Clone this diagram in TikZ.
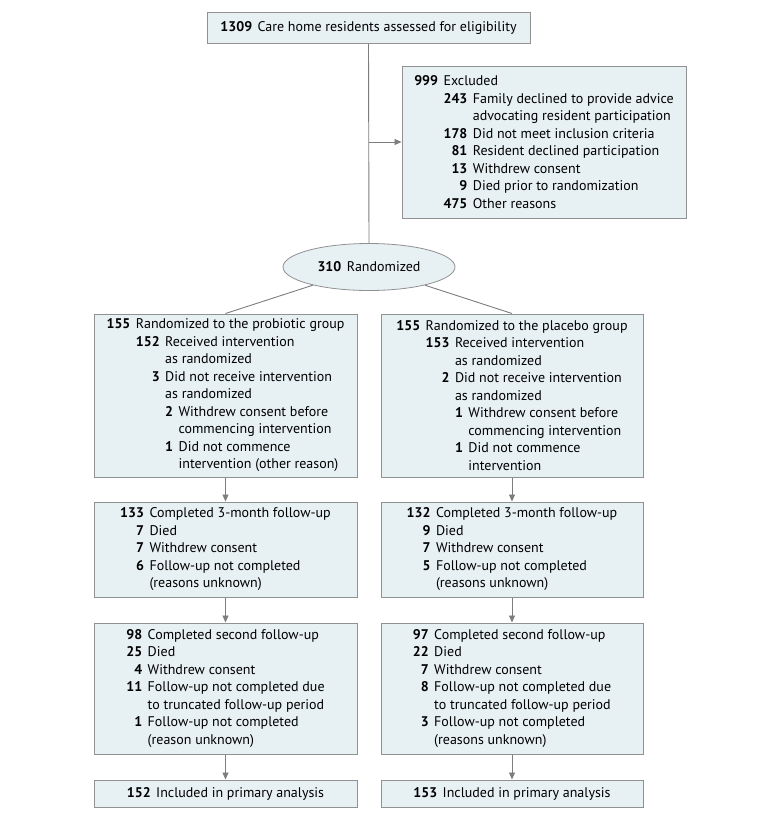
\documentclass[tikz,border=0pt]{standalone}
\usepackage{fontspec}
\setmainfont{PT Sans}
\usetikzlibrary{arrows.meta,shapes.geometric}
\definecolor{boxfill}{RGB}{231,240,243}
\definecolor{boxline}{RGB}{145,145,145}
\definecolor{conn}{RGB}{125,125,125}
\newlength\ga
\setlength\ga{5.5pt}
\newcommand\Nn[2]{\phantom{\bfseries#1}\llap{\bfseries#2}\hspace{\ga}}
\newcommand\Pp[1]{\phantom{\bfseries#1}\hspace{\ga}}
\tikzset{
  every node/.style={font=\fontsize{14}{17.5}\selectfont},
  flowbox/.style={draw=boxline, fill=boxfill, line width=1pt, rectangle,
    align=left, inner sep=0pt, anchor=center},
  randell/.style={draw=boxline, fill=boxfill, line width=0.8pt, ellipse,
    inner sep=0pt, minimum width=172pt, minimum height=47pt},
  conline/.style={draw=conn, line width=0.9pt},
  conarrow/.style={conline, -{Triangle[length=7pt,width=6pt]}}
}
\begin{document}
\begin{tikzpicture}[x=1pt,y=-1pt]
\useasboundingbox (0,0) rectangle (780,820);

\node[flowbox, minimum width=323pt, minimum height=31pt] (top) at (368.5,27.5)
  {\Nn{0000}{1309}Care home residents assessed for eligibility};

\node[flowbox, minimum width=284pt, minimum height=152pt] (excl) at (544,142)
  {\Nn{000}{999}Excluded\\
   \Pp{000}\Nn{000}{243}Family declined to provide advice\\
   \Pp{000}\Pp{000}advocating resident participation\\
   \Pp{000}\Nn{000}{178}Did not meet inclusion criteria\\
   \Pp{000}\Nn{000}{81}Resident declined participation\\
   \Pp{000}\Nn{000}{13}Withdrew consent\\
   \Pp{000}\Nn{000}{9}Died prior to randomization\\
   \Pp{000}\Nn{000}{475}Other reasons};

\node[randell] (rand) at (369,267) {\Nn{000}{310}Randomized};

\node[flowbox, minimum width=263pt, minimum height=163pt] (L1) at (225.5,395.5)
  {\Nn{000}{155}Randomized to the probiotic group\\
   \Pp{000}\Nn{000}{152}Received intervention\\
   \Pp{000}\Pp{000}as randomized\\
   \Pp{000}\Nn{000}{3}Did not receive intervention\\
   \Pp{000}\Pp{000}as randomized\\
   \Pp{000}\Pp{000}\Nn{0}{2}Withdrew consent before\\
   \Pp{000}\Pp{000}\Pp{0}commencing intervention\\
   \Pp{000}\Pp{000}\Nn{0}{1}Did not commence\\
   \Pp{000}\Pp{000}\Pp{0}intervention (other reason)};

\node[flowbox, minimum width=262pt, minimum height=163pt] (R1) at (512,395.5)
  {\Nn{000}{155}Randomized to the placebo group\\
   \Pp{000}\Nn{000}{153}Received intervention\\
   \Pp{000}\Pp{000}as randomized\\
   \Pp{000}\Nn{000}{2}Did not receive intervention\\
   \Pp{000}\Pp{000}as randomized\\
   \Pp{000}\Pp{000}\Nn{0}{1}Withdrew consent before\\
   \Pp{000}\Pp{000}\Pp{0}commencing intervention\\
   \Pp{000}\Pp{000}\Nn{0}{1}Did not commence\\
   \Pp{000}\Pp{000}\Pp{0}intervention};

\node[flowbox, minimum width=263pt, minimum height=95pt] (L2) at (225.5,549.5)
  {\Nn{000}{133}Completed 3-month follow-up\\
   \Nn{000}{7}Died\\
   \Nn{000}{7}Withdrew consent\\
   \Nn{000}{6}Follow-up not completed\\
   \Pp{000}(reasons unknown)};

\node[flowbox, minimum width=262pt, minimum height=95pt] (R2) at (512,549.5)
  {\Nn{000}{132}Completed 3-month follow-up\\
   \Nn{000}{9}Died\\
   \Nn{000}{7}Withdrew consent\\
   \Nn{000}{5}Follow-up not completed\\
   \Pp{000}(reasons unknown)};

\node[flowbox, minimum width=263pt, minimum height=131pt] (L3) at (225.5,688.5)
  {\Nn{00}{98}Completed second follow-up\\
   \Nn{00}{25}Died\\
   \Nn{00}{4}Withdrew consent\\
   \Nn{00}{11}Follow-up not completed due\\
   \Pp{00}to truncated follow-up period\\
   \Nn{00}{1}Follow-up not completed\\
   \Pp{00}(reason unknown)};

\node[flowbox, minimum width=262pt, minimum height=131pt] (R3) at (512,688.5)
  {\Nn{00}{97}Completed second follow-up\\
   \Nn{00}{22}Died\\
   \Nn{00}{7}Withdrew consent\\
   \Nn{00}{8}Follow-up not completed due\\
   \Pp{00}to truncated follow-up period\\
   \Nn{00}{3}Follow-up not completed\\
   \Pp{00}(reasons unknown)};

\node[flowbox, minimum width=263pt, minimum height=27pt] (L4) at (225.5,793.5)
  {\Nn{000}{152}Included in primary analysis};
\node[flowbox, minimum width=262pt, minimum height=27pt] (R4) at (512,793.5)
  {\Nn{000}{153}Included in primary analysis};

% connectors
\coordinate (br) at (top.south |- excl.west);
\draw[conline] (top.south) -- (rand.north);
\draw[conarrow] (br) -- (excl.west);
\draw[conline] (rand) -- (L1.north);
\draw[conline] (rand) -- (R1.north);
\draw[conarrow] (L1.south) -- (L2.north);
\draw[conarrow] (R1.south) -- (R2.north);
\draw[conarrow] (L2.south) -- (L3.north);
\draw[conarrow] (R2.south) -- (R3.north);
\draw[conarrow] (L3.south) -- (L4.north);
\draw[conarrow] (R3.south) -- (R4.north);
\end{tikzpicture}
\end{document}
